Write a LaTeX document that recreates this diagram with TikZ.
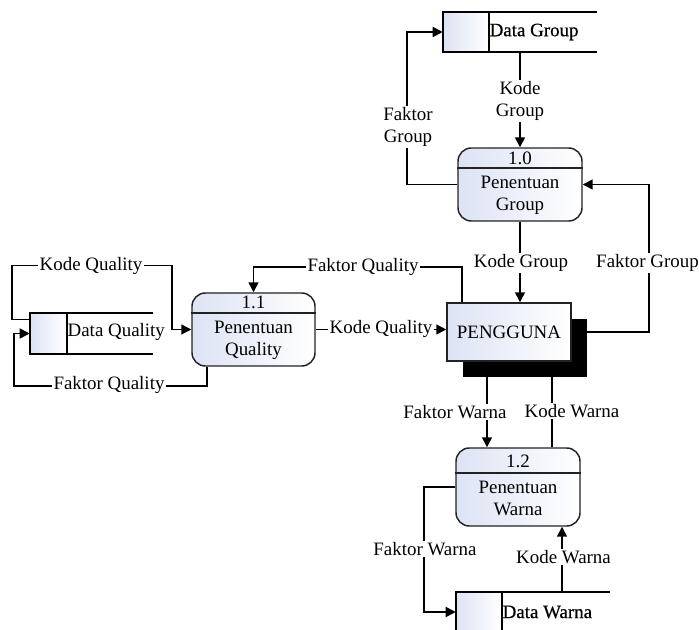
\documentclass[tikz,border=0pt]{standalone}
\usepackage{fontspec}
\setmainfont{Liberation Serif}
\newfontfamily\heavyserif{Liberation Serif}[FakeBold=0.6]
\usetikzlibrary{arrows.meta,shadows}
\definecolor{pblue}{HTML}{DCE3F4}
\definecolor{edge}{HTML}{222222}
\begin{document}
\begin{tikzpicture}[x=0.75pt,y=-0.75pt,
  font=\fontsize{14.2}{16.5}\selectfont,
  line/.style={line width=1.2pt},
  flow/.style={line width=1.2pt,-{Triangle[length=7.5pt,width=7.5pt]}},
  lbl/.style={fill=white,inner sep=1pt,align=center},
  shadefill/.style={left color=pblue,right color=white},
  proc/.style={draw=edge,line width=1.1pt,rounded corners=10pt,shadefill,inner sep=0pt},
  entity/.style={draw=edge,line width=1.1pt,shadefill,inner sep=0pt,
    minimum width=93pt,minimum height=43.5pt,
    drop shadow={shadow xshift=12pt,shadow yshift=-12pt,fill=black,opacity=1}},
  store/.style={inner sep=0pt},
  storetext/.style={anchor=west,inner sep=0.5pt},
  boldtext/.style={font=\heavyserif\fontsize{14.2}{16.5}\selectfont}
]
\useasboundingbox (0,0) rectangle (699,630);

% ---------- processes ----------
\node[proc,minimum width=93pt,minimum height=54.75pt] (p10) at (520,184.5) {};
\draw[edge,line width=1.1pt] (p10.west |- 0,168) -- (p10.east |- 0,168);
\node (p10n) at (520,158) {1.0};
\node[align=center] (p10t) at (520,195.5) {Penentuan\\Group};

\node[proc,minimum width=92.25pt,minimum height=54.75pt] (p11) at (253.5,329.5) {};
\draw[edge,line width=1.1pt] (p11.west |- 0,313) -- (p11.east |- 0,313);
\node (p11n) at (253.5,302.5) {1.1};
\node[align=center] (p11t) at (253.5,340) {Penentuan\\Quality};

\node[proc,minimum width=93pt,minimum height=58.5pt] (p12) at (518,487) {};
\draw[edge,line width=1.1pt] (p12.west |- 0,473) -- (p12.east |- 0,473);
\node (p12n) at (518,461) {1.2};
\node[align=center] (p12t) at (518,498) {Penentuan\\Warna};

% ---------- external entity ----------
\node[entity] (pg) at (509,332) {PENGGUNA};

% ---------- data stores ----------
\node[store,minimum width=115.5pt,minimum height=30pt] (dg) at (520,32) {};
\draw[line] (dg.north east) -- (dg.north west) -- (dg.south west) -- (dg.south east);
\draw[line,shadefill] (dg.north west) rectangle ([xshift=34.5pt]dg.south west);
\node[storetext,boldtext] (dgt) at ([xshift=34.5pt]dg.west) {Data Group};

\node[store,minimum width=92.25pt,minimum height=30.75pt] (dq) at (91.5,333.5) {};
\draw[line] (dq.north east) -- (dq.north west) -- (dq.south west) -- (dq.south east);
\draw[line,shadefill] (dq.north west) rectangle ([xshift=27.75pt]dq.south west);
\node[storetext] (dqt) at ([xshift=27.75pt,yshift=1pt]dq.west) {Data Quality};

\node[store,minimum width=115.5pt,minimum height=30pt] (dw) at (533,612) {};
\draw[line] (dw.north east) -- (dw.north west) -- (dw.south west) -- (dw.south east);
\draw[line,shadefill] (dw.north west) rectangle ([xshift=34.5pt]dw.south west);
\node[storetext,boldtext] (dwt) at ([xshift=34.5pt]dw.west) {Data Warna};

% ---------- flows: group ----------
\draw[flow] (dg.south -| p10.north) -- (p10.north);
\node[lbl] at (520,101) {Kode\\Group};

\draw[flow] (p10.west) -- ++(-50,0) |- (dg.west);
\node[lbl] at (408,127) {Faktor\\Group};

\draw[flow] (p10.south) -- (p10.south |- pg.north);
\node[lbl] at (521,263) {Kode Group};

\draw[flow] (pg.east) -- ++(77,0) |- (p10.east);
\node[lbl] at (647.5,263) {Faktor Group};

% ---------- flows: quality ----------
\draw[flow] ([xshift=12pt]pg.north west) -- ++(0,-35) -| (p11.north);
\node[lbl] at (363,267) {Faktor Quality};

\draw[flow] (p11.east) -- (p11.east -| pg.west);
\node[lbl] at (381,328.5) {Kode Quality};

\draw[flow] ([yshift=-5pt]dq.north west) -- ++(-18,0) -- ++(0,-54) -- ++(160,0) |- (p11.west);
\node[lbl] at (91,266) {Kode Quality};

\draw[flow] ([xshift=-34.9pt]p11.south) -- ++(0,19) -- ++(-193,0) |- (dq.west);
\node[lbl] at (109,385) {Faktor Quality};

% ---------- flows: warna ----------
\draw[flow] ([xshift=-16.5pt]pg.south) -- ([xshift=-16.5pt]pg.south |- p12.north);
\node[lbl] at (455,412) {Faktor Warna};

\draw[line] ([xshift=25.5pt]p12.north) -- ([xshift=25.5pt]p12.north |- pg.south);
\node[lbl] at (572,411) {Kode Warna};

\draw[flow] (p12.west) -- ++(-31,0) |- (dw.west);
\node[lbl] at (425,549) {Faktor Warna};

\draw[flow] ([xshift=21.75pt]dw.north) -- ([xshift=21.75pt]dw.north |- p12.south);
\node[lbl] at (563.5,557) {Kode Warna};
\end{tikzpicture}
\end{document}
